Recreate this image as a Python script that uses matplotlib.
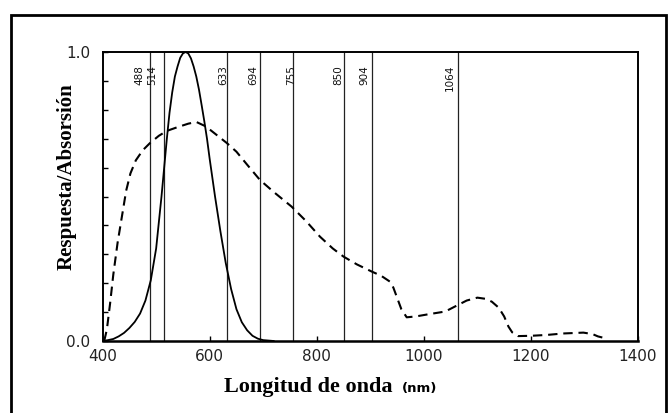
import matplotlib
matplotlib.use("Agg")
import matplotlib.pyplot as plt
from matplotlib.patches import Rectangle

# ---------------- data ----------------
# solid curve (detector / eye response)
resp_wl = [400, 410, 420, 430, 440, 450, 460, 470, 480, 490, 500, 505, 510, 515,
           520, 525, 530, 535, 540, 545, 550, 555, 560, 565, 570, 575, 580, 585,
           590, 595, 600, 605, 610, 620, 630, 640, 650, 660, 670, 680, 690, 700,
           720]
resp_val = [0.0, 0.003, 0.007, 0.016, 0.028, 0.045, 0.066, 0.095, 0.14, 0.21,
            0.32, 0.41, 0.50, 0.60, 0.70, 0.79, 0.86, 0.915, 0.95, 0.98, 0.995,
            1.0, 0.995, 0.978, 0.95, 0.915, 0.87, 0.816, 0.76, 0.70, 0.63, 0.565,
            0.50, 0.38, 0.27, 0.18, 0.11, 0.065, 0.037, 0.018, 0.008, 0.003, 0.0]

# dashed curve (absorption)
abs_wl = [403, 408, 414, 420, 428, 436, 444, 452, 462, 475, 488, 505, 520, 540,
          560, 575, 590, 600, 615, 632, 650, 670, 694, 720, 753, 780, 806, 830,
          850, 875, 903, 920, 937, 943, 950, 958, 968, 985, 1010, 1040, 1062,
          1080, 1100, 1115, 1127, 1140, 1150, 1158, 1165, 1176, 1200, 1230, 1260,
          1298, 1315, 1325, 1342]
abs_val = [0.0, 0.04, 0.13, 0.23, 0.34, 0.43, 0.52, 0.58, 0.625, 0.66, 0.684,
           0.71, 0.727, 0.74, 0.752, 0.758, 0.745, 0.732, 0.71, 0.685, 0.655,
           0.61, 0.557, 0.515, 0.465, 0.415, 0.361, 0.32, 0.292, 0.265, 0.24,
           0.226, 0.205, 0.185, 0.15, 0.11, 0.082, 0.085, 0.093, 0.102, 0.123,
           0.14, 0.15, 0.146, 0.136, 0.115, 0.085, 0.05, 0.03, 0.017, 0.018,
           0.021, 0.026, 0.029, 0.024, 0.016, 0.008]

# laser lines
laser_wl = [488, 514, 633, 694, 755, 850, 904, 1064]
laser_labels = ["488", "514", "633", "694", "755", "850", "904", "1064"]

x_ticks = [400, 600, 800, 1000, 1200, 1400]
x_ticklabels = ["400", "600", "800", "1000", "1200", "1400"]
y_ticks = [0.0, 1.0]
y_ticklabels = ["0.0", "1.0"]

# ---------------- figure ----------------
W, H = 670, 413
fig = plt.figure(figsize=(W / 100, H / 100), dpi=100)
fig.patch.set_facecolor("white")

ax = fig.add_axes([102.6 / W, 1 - 341 / H, (638 - 102.6) / W, (341 - 52) / H])
ax.set_xlim(400, 1400)
ax.set_ylim(0, 1)

for wl in laser_wl:
    ax.axvline(wl, color="#222222", lw=0.9)

ax.plot(resp_wl, resp_val, color="black", lw=1.3, solid_capstyle="round",
        solid_joinstyle="round")
ax.plot(abs_wl, abs_val, color="black", lw=1.5, ls=(0, (4.5, 2.8)))

# labels for laser lines (offset in pixels to the left of each line)
px_per_nm = (638 - 102.6) / 1000
offsets_px = {"488": -10.3, "514": -11.7, "633": -4.5, "694": -7, "755": -2,
              "850": -5.5, "904": -8.5, "1064": -8}
for wl, lab in zip(laser_wl, laser_labels):
    ax.text(wl + offsets_px[lab] / px_per_nm, 0.955, lab, rotation=90,
            ha="center", va="top", fontsize=7.5, family="DejaVu Sans",
            color="#111111")

ax.set_xticks(x_ticks)
ax.set_xticklabels(x_ticklabels)
ax.set_yticks(y_ticks)
ax.set_yticklabels(y_ticklabels)
ax.set_yticks([i / 10 for i in range(1, 10)], minor=True)
ax.tick_params(axis="both", which="both", direction="in", length=3.5,
               width=1.0, color="black")
ax.tick_params(axis="x", which="major", labelsize=11, pad=6)
ax.tick_params(axis="y", which="major", labelsize=11, pad=9)
for lbl in ax.get_xticklabels() + ax.get_yticklabels():
    lbl.set_family("DejaVu Sans")
    lbl.set_color("#222222")

for side, sp in ax.spines.items():
    sp.set_linewidth(1.4)
    sp.set_color("black")
ax.spines["bottom"].set_linewidth(1.8)

# axis titles
fig.text(66.5 / W, 1 - 176.5 / H, "Respuesta/Absorsión", rotation=90,
         ha="center", va="center", fontsize=15, fontweight="bold",
         family="Liberation Serif")
fig.text(393 / W, 1 - 392 / H, "Longitud de onda", ha="right", va="baseline",
         fontsize=16, fontweight="bold", family="Liberation Serif")
fig.text(402 / W, 1 - 392 / H, "(nm)", ha="left", va="baseline",
         fontsize=9.5, fontweight="bold", family="DejaVu Sans")

# outer frame of the picture
fig.patches.append(Rectangle((10.5 / W, -0.05), (665.5 - 10.5) / W,
                             1.05 - 14.5 / H, transform=fig.transFigure,
                             fill=False, edgecolor="black", lw=2.0))

fig.savefig("out.png", dpi=100, facecolor="white")
